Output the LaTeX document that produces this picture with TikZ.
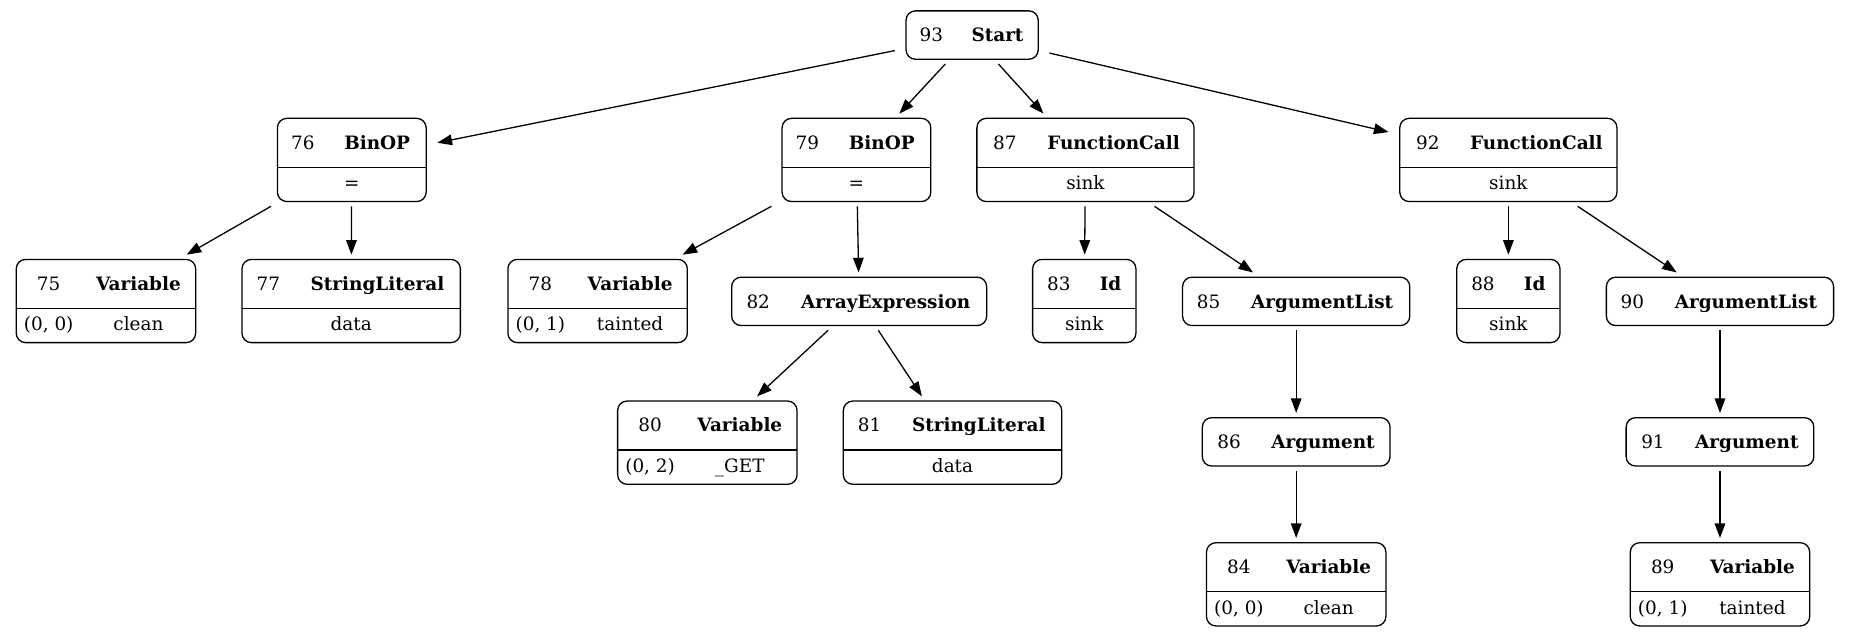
\documentclass[tikz,border=0pt]{standalone}
\usepackage{fontspec}
\setmainfont{DejaVu Serif}
\usepackage{array}
\usepackage{tikz}
\usetikzlibrary{arrows.meta}

\setlength{\tabcolsep}{0pt}
\setlength{\arrayrulewidth}{0.55pt}
\newcommand{\hstrut}{\rule[-7.4pt]{0pt}{20.5pt}}
\newcommand{\bstrut}{\rule[-5pt]{0pt}{14.2pt}}
% header row only
\newcommand{\hdonly}[4]{\begin{tabular}{w{c}{#1}w{c}{#2}}\hstrut#3 & \textbf{#4}\end{tabular}}
% header row + one value
\newcommand{\hdval}[5]{\begin{tabular}{w{c}{#1}w{c}{#2}}\hstrut#3 & \textbf{#4}\\\hline
  \multicolumn{2}{c}{\bstrut#5}\end{tabular}}
% header row + position and name
\newcommand{\hdvar}[6]{\begin{tabular}{w{c}{#1}w{c}{#2}}\hstrut#3 & \textbf{#4}\\\hline
  \bstrut#5 & #6\end{tabular}}

\begin{document}
\begin{tikzpicture}[x=0.5pt,y=-0.5pt,->,>={Triangle[length=6.2pt,width=4.5pt]},
                    line width=0.55pt,
                    rec/.style={draw,rounded corners=4pt,inner sep=0pt,outer xsep=4.75pt,
                                outer ysep=2pt,font=\fontsize{7.8}{9}\selectfont}]

  \useasboundingbox (0,0) rectangle (1568,538.8);

  \node[rec] (93) at (823.5,29.7) {\hdonly{21.5pt}{34.5pt}{93}{Start}};

  \node[rec] (76) at (298,135.5) {\hdval{21.5pt}{41.5pt}{76}{BinOP}{=}};
  \node[rec] (79) at (725.5,135.5) {\hdval{21.5pt}{41.5pt}{79}{BinOP}{=}};
  \node[rec] (87) at (919.5,135.5) {\hdval{23.75pt}{68.25pt}{87}{FunctionCall}{sink}};
  \node[rec] (92) at (1277.75,135.5) {\hdval{23.75pt}{68.25pt}{92}{FunctionCall}{sink}};

  \node[rec] (75) at (89.75,255) {\hdvar{27.5pt}{48.5pt}{75}{Variable}{(0, 0)}{clean}};
  \node[rec] (77) at (297.5,255) {\hdval{22.25pt}{70.25pt}{77}{StringLiteral}{data}};
  \node[rec] (78) at (506.25,255) {\hdvar{27.5pt}{48.5pt}{78}{Variable}{(0, 1)}{tainted}};
  \node[rec] (82) at (727.8,255.3) {\hdonly{22.5pt}{85.5pt}{82}{ArrayExpression}};
  \node[rec] (83) at (918.5,255) {\hdval{22.25pt}{21.5pt}{83}{Id}{sink}};
  \node[rec] (85) at (1098,255.3) {\hdonly{22pt}{74.25pt}{85}{ArgumentList}};
  \node[rec] (88) at (1277.75,255) {\hdval{22.25pt}{21.5pt}{88}{Id}{sink}};
  \node[rec] (90) at (1457,255.3) {\hdonly{22pt}{74.25pt}{90}{ArgumentList}};

  \node[rec] (80) at (599.2,375) {\hdvar{27.5pt}{48.5pt}{80}{Variable}{(0, 2)}{\_GET}};
  \node[rec] (81) at (806.9,375) {\hdval{22.25pt}{70.25pt}{81}{StringLiteral}{data}};
  \node[rec] (86) at (1098,374.3) {\hdonly{22.75pt}{56.75pt}{86}{Argument}};
  \node[rec] (91) at (1457,374.3) {\hdonly{22.75pt}{56.75pt}{91}{Argument}};

  \node[rec] (84) at (1098,495) {\hdvar{27.5pt}{48.5pt}{84}{Variable}{(0, 0)}{clean}};
  \node[rec] (89) at (1457,495) {\hdvar{27.5pt}{48.5pt}{89}{Variable}{(0, 1)}{tainted}};

  \path (93) edge (76) edge (79) edge (87) edge (92)
        (76) edge (75) edge (77)
        (79) edge (78) edge (82)
        (82) edge (80) edge (81)
        (87) edge (83) edge (85)
        (85) edge (86)
        (86) edge (84)
        (92) edge (88) edge (90)
        (90) edge (91)
        (91) edge (89);
\end{tikzpicture}
\end{document}
